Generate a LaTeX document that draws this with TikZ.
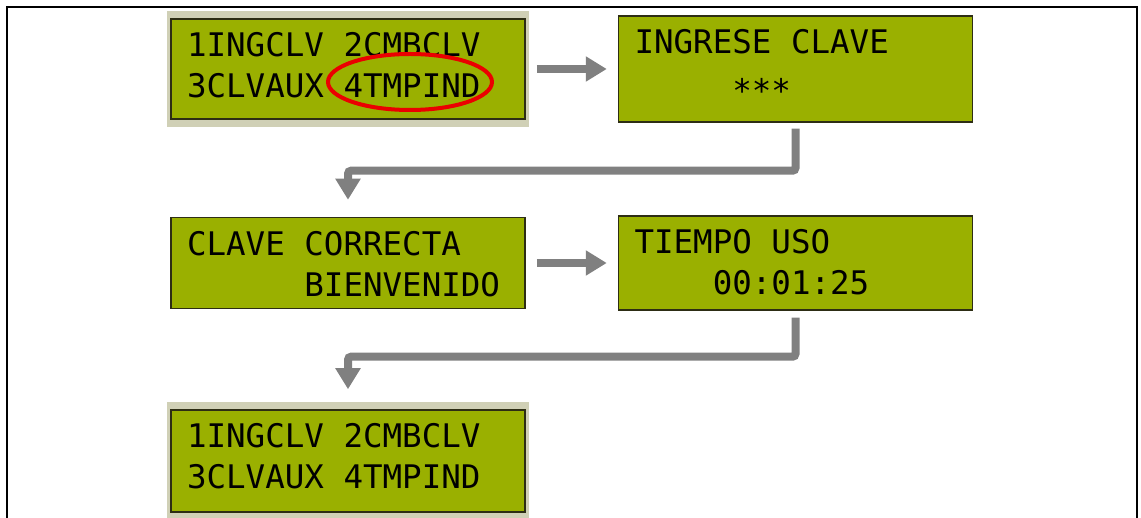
\documentclass[tikz,border=0pt]{standalone}
\usepackage{fontspec}
\usetikzlibrary{arrows.meta,positioning,fit,backgrounds,shapes.geometric}
\newfontfamily\lcdfont{DejaVu Sans Mono}
\definecolor{lcdgreen}{RGB}{154,176,0}
\definecolor{lcdedge}{RGB}{45,45,20}
\definecolor{bezel}{RGB}{208,208,182}
\definecolor{arrowgray}{RGB}{128,128,128}
\definecolor{markred}{RGB}{235,0,0}
% one LCD cell of blank space per character of the argument
\newcommand{\cells}[1]{\hphantom{#1}}

\begin{document}
\begin{tikzpicture}[
    x=1pt, y=-1pt,
    node distance=92pt,
    lcd/.style={rectangle,draw=lcdedge,line width=1.5pt,fill=lcdgreen,
                text width=322pt,align=left,inner xsep=16pt,inner ysep=14pt,
                text height=24pt,text depth=#1,
                font=\fontsize{32.5}{41}\selectfont\lcdfont},
    bezelbox/.style={rectangle,fill=bezel,inner xsep=3pt,inner ysep=7.5pt},
    arrow/.style={-{Triangle[width=24pt,length=21pt]},line width=8pt,draw=arrowgray}
]
    \useasboundingbox (0,0) rectangle (1141,518);
    \draw[line width=2pt] (7,518) -- (7,7) -- (1137,7) -- (1137,518);

    \node[lcd=48pt] (menu) at (348,69) {1INGCLV\cells{0}2CMBCLV\\3CLVAUX\cells{0}4TMPIND};
    \node[lcd=54pt,right=of menu] (clave) {INGRESE\cells{0}CLAVE\\\cells{00000}\raisebox{-8pt}{***}};
    \node[lcd=39pt,below=97pt of menu] (correcta) {CLAVE\cells{0}CORRECTA\\\cells{000000}BIENVENIDO};
    \node[lcd=42pt,right=of correcta] (tiempo) {TIEMPO\cells{0}USO\\\cells{0000}00:01:25};
    \node[lcd=50pt,below=100pt of correcta] (retorno) {1INGCLV\cells{0}2CMBCLV\\3CLVAUX\cells{0}4TMPIND};
    \begin{scope}[on background layer]
        \node[bezelbox,fit=(menu)] (menubezel) {};
        \node[bezelbox,fit=(retorno)] (retornobezel) {};
    \end{scope}
    \node[ellipse,draw=markred,line width=4pt,minimum width=164pt,minimum height=56pt,
          inner sep=0pt] (pick) at (410,82) {};

    \draw[arrow,shorten <=11pt,shorten >=11pt] (menu) -- (clave);
    \draw[arrow,rounded corners=3pt,shorten <=6pt,shorten >=17pt]
        (clave.south) -- ++(0pt,-48pt) -| (correcta.north);
    \draw[arrow,shorten <=11pt,shorten >=11pt] (correcta) -- (tiempo);
    \draw[arrow,rounded corners=3pt,shorten <=7pt,shorten >=20pt]
        (tiempo.south) -- ++(0pt,-46pt) -| (retorno.north);
\end{tikzpicture}
\end{document}
